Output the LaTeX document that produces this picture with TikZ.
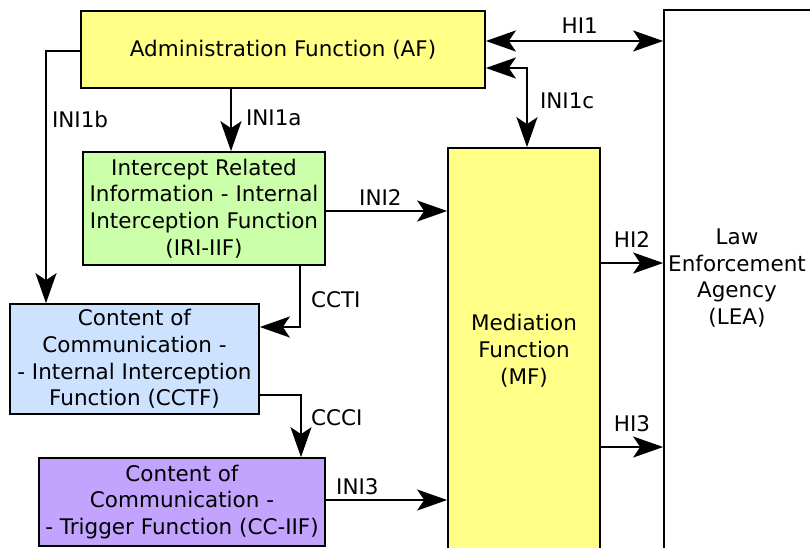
\documentclass[tikz,border=0pt]{standalone}
\usepackage{fontspec}
\setmainfont{DejaVu Sans}
\usetikzlibrary{arrows.meta,calc}
\definecolor{afyellow}{HTML}{FFFF88}
\definecolor{irigreen}{HTML}{CCFFAA}
\definecolor{cctfblue}{HTML}{CCE2FF}
\definecolor{ccviolet}{HTML}{C2A4FF}
\begin{document}
\begin{tikzpicture}[x=1pt,y=-1pt,
  >={Stealth[length=30pt,width=21pt,inset=7pt]},
  box/.style={draw=black, line width=1.7pt, align=center, inner sep=0pt,
    font=\fontsize{21.5}{26.8}\selectfont},
  txt/.style={align=center, inner sep=0pt, font=\fontsize{21.5}{26.8}\selectfont},
  conn/.style={line width=2pt},
  lbl/.style={inner sep=0pt, font=\fontsize{21.5}{26.8}\selectfont}]
\useasboundingbox (0,0) rectangle (810,547);
\clip (0,0) rectangle (810,547);

% functional blocks
\node[box, fill=afyellow, minimum width=404pt, minimum height=77pt] (af) at (283,49.5)
  {Administration Function (AF)};
\node[box, fill=irigreen, minimum width=242pt, minimum height=113pt] (iri) at (204,208.5)
  {Intercept Related\\Information - Internal\\Interception Function\\(IRI-IIF)};
\node[box, fill=cctfblue, minimum width=249pt, minimum height=110pt] (cctf) at (134.5,359)
  {Content of\\Communication -\\- Internal Interception\\Function (CCTF)};
\node[box, fill=ccviolet, minimum width=286pt, minimum height=88pt] (cciif) at (182,502)
  {Content of\\Communication -\\- Trigger Function (CC-IIF)};
\node[box, fill=afyellow, minimum width=152pt, minimum height=422pt] (mf) at (524,359) {};
\node[txt] (mftext) at (524,351) {Mediation\\Function\\(MF)};
\node[box, fill=white, minimum width=176pt, minimum height=560pt] (lea) at (752,290) {};
\node[txt] (leatext) at (737,278) {Law\\Enforcement\\Agency\\(LEA)};

% handover interfaces
\coordinate (hi1s) at ([yshift=8.5pt]af.east);
\draw[conn, <->] (hi1s) -- (hi1s -| lea.west)
  node[lbl, pos=0.53, yshift=15pt] {HI1};

\coordinate (ini1cs) at ([yshift=-18.5pt]af.east);
\coordinate (ini1ce) at ([xshift=3pt]mf.north);
\draw[conn, <->] (ini1cs) -- (ini1cs -| ini1ce) -- (ini1ce)
  node[lbl, pos=0.42, anchor=west, xshift=12pt] {INI1c};

\coordinate (ini1as) at ([xshift=-52pt]af.south);
\draw[conn, ->] (ini1as) -- (ini1as |- iri.north)
  node[lbl, pos=0.47, anchor=west, xshift=14pt] {INI1a};

\coordinate (ini1be) at ([xshift=-88.5pt]cctf.north);
\draw[conn, ->] ([yshift=-1.5pt]af.west) -- ([yshift=-1.5pt]af.west -| ini1be) -- (ini1be)
  node[lbl, pos=0.27, anchor=west, xshift=5pt] {INI1b};

\coordinate (ini2s) at ([yshift=-2.5pt]iri.east);
\draw[conn, ->] (ini2s) -- (ini2s -| mf.west)
  node[lbl, pos=0.45, yshift=13pt] {INI2};

\coordinate (cctis) at ([xshift=96pt]iri.south);
\coordinate (cctie) at ([yshift=32pt]cctf.east);
\draw[conn, ->] (cctis) |- (cctie)
  node[lbl, pos=0.28, anchor=west, xshift=10pt] {CCTI};

\coordinate (cccis) at ([yshift=-36pt]cctf.east);
\coordinate (cccie) at ([xshift=119pt]cciif.north);
\draw[conn, ->] (cccis) -| (cccie)
  node[lbl, pos=0.68, anchor=west, xshift=9pt] {CCCI};

\coordinate (ini3s) at ([yshift=2pt]cciif.east);
\draw[conn, ->] (ini3s) -- (ini3s -| mf.west)
  node[lbl, pos=0.26, yshift=13pt] {INI3};

\coordinate (hi2s) at ([yshift=96pt]mf.east);
\draw[conn, ->] (hi2s) -- (hi2s -| lea.west)
  node[lbl, pos=0.5, yshift=23pt] {HI2};

\coordinate (hi3s) at ([yshift=-88pt]mf.east);
\draw[conn, ->] (hi3s) -- (hi3s -| lea.west)
  node[lbl, pos=0.5, yshift=23pt] {HI3};
\end{tikzpicture}
\end{document}
